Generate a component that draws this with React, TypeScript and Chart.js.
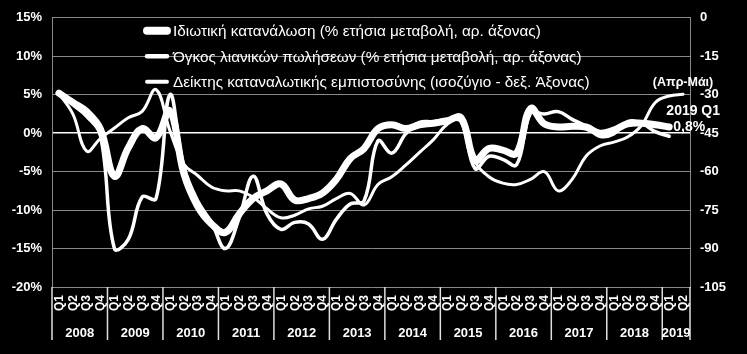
import React, { useEffect, useRef } from "react";
import { Chart, registerables } from "chart.js";

Chart.register(...registerables);

const years = ["2008", "2009", "2010", "2011", "2012", "2013", "2014", "2015", "2016", "2017", "2018", "2019"];
const quarterNames = ["Q1", "Q2", "Q3", "Q4"];
const quartersInLastYear = 2;

const seriesNames = [
  "Ιδιωτική κατανάλωση (% ετήσια μεταβολή, αρ. άξονας)",
  "Όγκος λιανικών πωλήσεων (% ετήσια μεταβολή, αρ. άξονας)",
  "Δείκτης καταναλωτικής εμπιστοσύνης (ισοζύγιο - δεξ. Άξονας)",
];

// Private consumption, % y/y (left axis)
const consumption = [
  5.2, 4.0, 2.8, 0.5,
  -5.6, -1.9, 0.6, -0.6,
  2.9, -5.2, -9.5, -11.8,
  -12.9, -10.5, -8.5, -7.5,
  -6.6, -8.7, -8.5, -7.8,
  -6.0, -3.3, -2.0, 0.6,
  1.1, 0.6, 1.1, 1.3,
  1.6, 2.0, -3.5, -2.0,
  -2.2, -2.6, 3.2, 1.2,
  0.8, 0.9, 0.8, 0.0,
  0.4, 1.2, 1.3, 1.1,
  0.8, null,
];

// Retail sales volume, % y/y (left axis)
const retail = [
  5.3, 3.7, 2.2, -0.4,
  -15.0, -13.8, -8.3, -8.5,
  5.0, -4.3, -8.8, -11.6,
  -15.0, -11.0, -5.6, -10.5,
  -12.5, -11.6, -11.8, -13.8,
  -11.2, -9.2, -8.8, -1.0,
  -2.6, -0.1, 1.4, 1.5,
  1.8, 1.5, -4.6, -3.0,
  -3.4, -4.1, 2.6, 2.5,
  2.8, 1.8, 0.9, -0.4,
  -0.1, 1.5, 1.3, 0.2,
  -0.4, null,
];

// Consumer confidence, balance (right axis)
const confidence = [
  -29.5, -37.5, -52, -47,
  -43, -39, -36.5, -28,
  -44, -57, -61.5, -66,
  -67.5, -67.5, -70, -74.5,
  -78, -77, -74.5, -73.5,
  -70.5, -68.5, -73, -65,
  -62, -57.5, -52.5, -47.5,
  -41.5, -39.5, -56, -62,
  -64.5, -65, -63, -60,
  -67.5, -63, -54, -50,
  -48.5, -46.5, -42, -33,
  -30.5, -29.8,
];

const leftTicks = { min: -20, max: 15, step: 5 };
const rightTicks = { min: -105, max: 0, step: 15 };

const noteConfidence = "(Απρ-Μάι)";
const noteConsumptionPeriod = "2019 Q1";
const noteConsumptionValue = "0,8%";

const FONT = "'Liberation Sans', Arial, sans-serif";

const categories: string[] = [];
years.forEach((y, i) => {
  const n = i === years.length - 1 ? quartersInLastYear : quarterNames.length;
  for (let q = 0; q < n; q++) categories.push(y + " " + quarterNames[q]);
});

const overlayPlugin = {
  id: "overlay",
  afterDraw(chart: any) {
    const { ctx, chartArea, scales } = chart;
    const xs = scales.x;
    ctx.save();
    // quarter labels
    ctx.fillStyle = "#ffffff";
    ctx.font = "bold 12px " + FONT;
    ctx.textBaseline = "middle";
    ctx.textAlign = "right";
    categories.forEach((c, i) => {
      const x = xs.getPixelForValue(i);
      ctx.save();
      ctx.translate(x + 0.5, chartArea.bottom + 8);
      ctx.rotate(-Math.PI / 2);
      ctx.fillText(c.split(" ")[1], 0, 0);
      ctx.restore();
    });
    // year separators and labels
    const slot = (chartArea.right - chartArea.left) / categories.length;
    ctx.strokeStyle = "#e0e0e0";
    ctx.lineWidth = 1.5;
    let idx = 0;
    const bounds: number[] = [chartArea.left];
    years.forEach((y, i) => {
      const n = i === years.length - 1 ? quartersInLastYear : quarterNames.length;
      idx += n;
      bounds.push(chartArea.left + idx * slot);
    });
    bounds.forEach((bx) => {
      ctx.beginPath();
      ctx.moveTo(bx, chartArea.bottom);
      ctx.lineTo(bx, chartArea.bottom + 53);
      ctx.stroke();
    });
    ctx.font = "bold 13px " + FONT;
    ctx.textAlign = "center";
    years.forEach((y, i) => {
      ctx.fillText(y, (bounds[i] + bounds[i + 1]) / 2, chartArea.bottom + 46);
    });

    // legend
    const widths = [7, 3.5, 3];
    ctx.font = "15.3px " + FONT;
    ctx.textAlign = "left";
    seriesNames.forEach((name, i) => {
      const ly = chartArea.top + 13 + i * 25.5;
      ctx.lineCap = "round";
      ctx.lineWidth = widths[i] + 1;
      ctx.strokeStyle = "#ffffff";
      ctx.beginPath();
      ctx.moveTo(chartArea.left + 95, ly);
      ctx.lineTo(chartArea.left + 115, ly);
      ctx.stroke();
      ctx.fillText(name, chartArea.left + 121, ly + 1);
    });

    // annotations
    const yL = scales.y;
    const yR = scales.y1;
    const lastCC = confidence.length - 1;
    const ccX = xs.getPixelForValue(lastCC);
    const ccY = yR.getPixelForValue(confidence[lastCC] as number);
    ctx.font = "bold 12.5px " + FONT;
    ctx.textAlign = "center";
    ctx.fillText(noteConfidence, ccX, ccY - 12);
    let lastC = consumption.length - 1;
    while (consumption[lastC] == null) lastC--;
    const cX = xs.getPixelForValue(lastC);
    const cY = yL.getPixelForValue(consumption[lastC] as number);
    ctx.font = "bold 14px " + FONT;
    ctx.fillText(noteConsumptionPeriod, cX + 24, cY - 16);
    ctx.fillText(noteConsumptionValue, cX + 20, cY);
    ctx.restore();
  },
};

export default function App() {
  const ref = useRef<HTMLCanvasElement | null>(null);
  useEffect(() => {
    if (!ref.current) return;
    const chart = new Chart(ref.current, {
      type: "line",
      data: {
        labels: categories,
        datasets: [
          {
            label: seriesNames[0],
            data: consumption,
            yAxisID: "y",
            borderColor: "#ffffff",
            borderWidth: 7,
            pointRadius: 0,
            tension: 0.4,
            borderCapStyle: "round",
            borderJoinStyle: "round",
          },
          {
            label: seriesNames[1],
            data: retail,
            yAxisID: "y",
            borderColor: "#ffffff",
            borderWidth: 3.5,
            pointRadius: 0,
            tension: 0.4,
            borderCapStyle: "round",
            borderJoinStyle: "round",
          },
          {
            label: seriesNames[2],
            data: confidence,
            yAxisID: "y1",
            borderColor: "#ffffff",
            borderWidth: 3,
            pointRadius: 0,
            tension: 0.4,
            borderCapStyle: "round",
            borderJoinStyle: "round",
          },
        ],
      },
      options: {
        animation: false,
        responsive: true,
        maintainAspectRatio: false,
        layout: { padding: { top: 16, left: 0, right: 0, bottom: 0 } },
        plugins: { legend: { display: false }, tooltip: { enabled: false } },
        scales: {
          x: {
            type: "category",
            offset: true,
            ticks: { display: false },
            grid: { display: false },
            border: { display: false },
            afterFit: (s: any) => {
              s.height = 67;
            },
          },
          y: {
            position: "left",
            min: leftTicks.min,
            max: leftTicks.max,
            ticks: {
              stepSize: leftTicks.step,
              color: "#ffffff",
              font: { family: FONT, size: 13, weight: "bold" },
              padding: 10,
              callback: (v: any) => v + "%",
            },
            grid: {
              color: (c: any) => (c.tick && c.tick.value === 0 ? "#ffffff" : "#8a8a8a"),
              lineWidth: (c: any) => (c.tick && c.tick.value === 0 ? 1.5 : 1),
              drawTicks: false,
            },
            border: { display: true, color: "#8a8a8a" },
            afterFit: (s: any) => {
              s.width = 52;
            },
          },
          y1: {
            position: "right",
            min: rightTicks.min,
            max: rightTicks.max,
            ticks: {
              stepSize: rightTicks.step,
              color: "#ffffff",
              font: { family: FONT, size: 13, weight: "bold" },
              padding: 10,
            },
            grid: { drawOnChartArea: false, drawTicks: false },
            border: { display: true, color: "#8a8a8a" },
            afterFit: (s: any) => {
              s.width = 57;
            },
          },
        },
      },
      plugins: [overlayPlugin],
    });
    return () => chart.destroy();
  }, []);
  return (
    <div style={{ position: "fixed", left: 0, top: 0, width: 747, height: 354, background: "#000" }}>
      <canvas ref={ref} />
    </div>
  );
}
